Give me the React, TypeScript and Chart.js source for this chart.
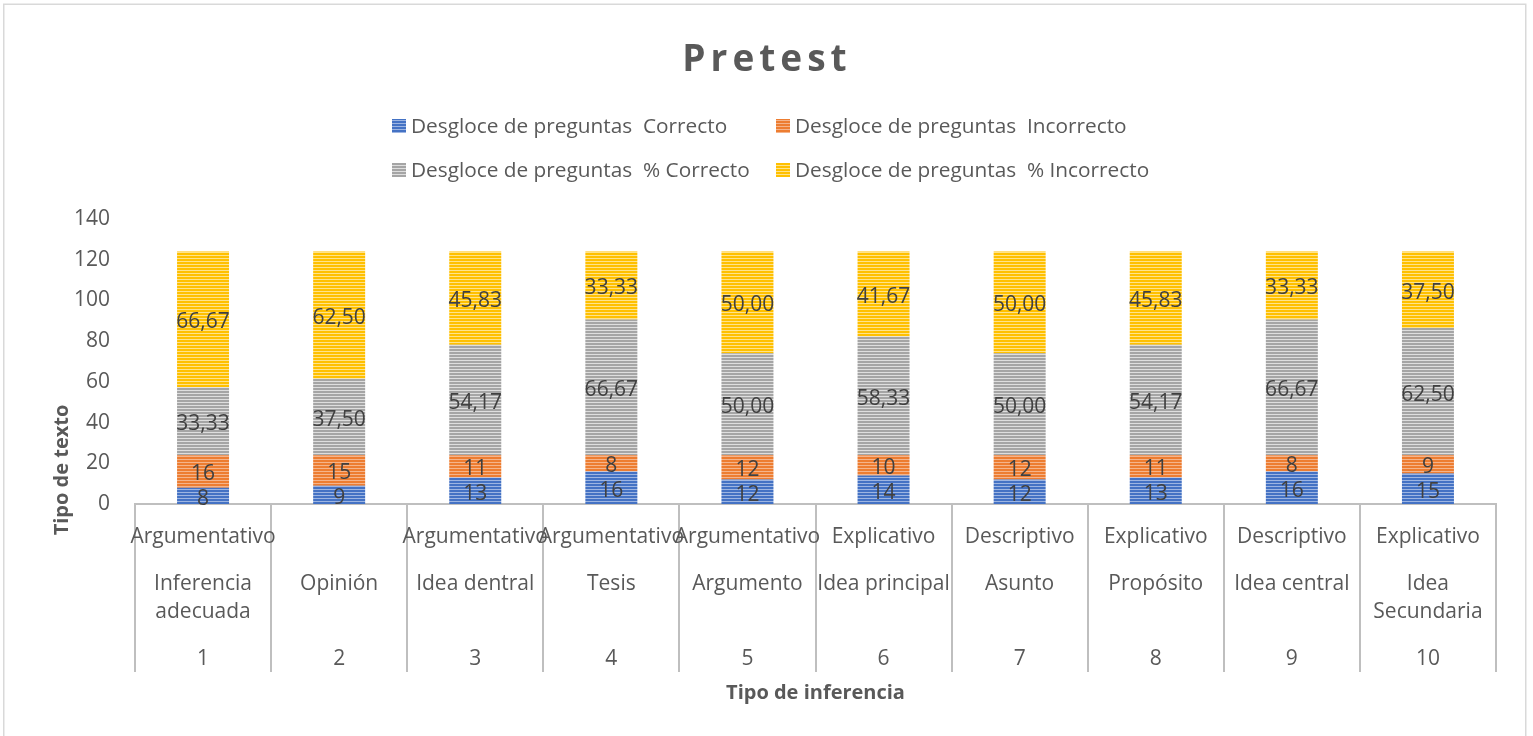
import React, { useEffect, useRef } from "react";
import { Chart, registerables } from "chart.js";

Chart.register(...registerables);

const categoryNumbers = ["1", "2", "3", "4", "5", "6", "7", "8", "9", "10"];
const textTypes = [
  "Argumentativo", "", "Argumentativo", "Argumentativo", "Argumentativo",
  "Explicativo", "Descriptivo", "Explicativo", "Descriptivo", "Explicativo",
];
const inferenceTypes = [
  ["Inferencia", "adecuada"], ["Opinión"], ["Idea dentral"], ["Tesis"], ["Argumento"],
  ["Idea principal"], ["Asunto"], ["Propósito"], ["Idea central"], ["Idea", "Secundaria"],
];
const correcto = [8, 9, 13, 16, 12, 14, 12, 13, 16, 15];
const incorrecto = [16, 15, 11, 8, 12, 10, 12, 11, 8, 9];
const pctCorrecto = [33.33, 37.5, 54.17, 66.67, 50, 58.33, 50, 54.17, 66.67, 62.5];
const pctIncorrecto = [66.67, 62.5, 45.83, 33.33, 50, 41.67, 50, 45.83, 33.33, 37.5];
const seriesNames = [
  "Desgloce de preguntas  Correcto",
  "Desgloce de preguntas  Incorrecto",
  "Desgloce de preguntas  % Correcto",
  "Desgloce de preguntas  % Incorrecto",
];
const yTicks = { min: 0, max: 140, step: 20 };

const FONT = "'Open Sans', Lato, sans-serif";
const TEXT = "#595959";
const LABEL = "#404040";

function stripe(base: string, light: string): CanvasPattern | string {
  const c = document.createElement("canvas");
  c.width = 4;
  c.height = 3;
  const ctx = c.getContext("2d");
  if (!ctx) return base;
  ctx.fillStyle = base;
  ctx.fillRect(0, 0, 4, 3);
  ctx.fillStyle = light;
  ctx.fillRect(0, 0, 4, 1);
  return ctx.createPattern(c, "repeat") || base;
}

export default function App() {
  const ref = useRef<HTMLCanvasElement | null>(null);

  useEffect(() => {
    if (!ref.current) return;
    const fills = [
      stripe("#4472C4", "#9DB5E2"),
      stripe("#ED7D31", "#F5B48A"),
      stripe("#A5A5A5", "#DEDEDE"),
      stripe("#FFC000", "#FFE38A"),
    ];

    const frame = {
      id: "frame",
      beforeDraw(chart: any) {
        const ctx = chart.ctx;
        ctx.save();
        ctx.fillStyle = "#ffffff";
        ctx.fillRect(0, 0, chart.width, chart.height);
        ctx.strokeStyle = "#d9d9d9";
        ctx.lineWidth = 1.5;
        ctx.strokeRect(3.75, 4.25, 1522, 740);
        ctx.restore();
      },
    };

    const decorations = {
      id: "decorations",
      afterDraw(chart: any) {
        const ctx = chart.ctx;
        const xs = chart.scales.x;
        const area = chart.chartArea;
        ctx.save();
        // Title
        ctx.fillStyle = TEXT;
        ctx.font = `bold 37px ${FONT}`;
        ctx.textAlign = "center";
        ctx.textBaseline = "middle";
        (ctx as any).letterSpacing = "5px";
        ctx.fillText("Pretest", 767, 60);
        (ctx as any).letterSpacing = "0px";

        // Legend
        ctx.font = `20.8px ${FONT}`;
        ctx.textAlign = "left";
        const legendPos = [
          [392, 126], [776, 126], [392, 170], [776, 170],
        ];
        seriesNames.forEach((name, i) => {
          const [lx, ly] = legendPos[i];
          ctx.fillStyle = fills[i] as any;
          ctx.fillRect(lx, ly - 7, 14, 14);
          ctx.fillStyle = TEXT;
          ctx.fillText(name, lx + 19, ly + 1);
        });

        // Category labels (multi-level)
        ctx.font = `21px ${FONT}`;
        ctx.textAlign = "center";
        ctx.fillStyle = TEXT;
        categoryNumbers.forEach((num, i) => {
          const x = xs.getPixelForValue(i);
          ctx.fillText(textTypes[i], x, area.bottom + 33);
          inferenceTypes[i].forEach((line, j) => {
            ctx.fillText(line, x, area.bottom + 80 + j * 28);
          });
          ctx.fillText(num, x, area.bottom + 155);
        });

        // Axis titles
        ctx.font = `bold 20px ${FONT}`;
        ctx.fillText("Tipo de inferencia", (area.left + area.right) / 2, 693);
        ctx.translate(62, 470);
        ctx.rotate(-Math.PI / 2);
        ctx.fillText("Tipo de texto", 0, 0);
        ctx.restore();
      },
    };

    const dataLabels = {
      id: "dataLabels",
      afterDatasetsDraw(chart: any) {
        const ctx = chart.ctx;
        ctx.save();
        ctx.font = `21px ${FONT}`;
        ctx.fillStyle = LABEL;
        ctx.textAlign = "center";
        ctx.textBaseline = "middle";
        chart.data.datasets.forEach((ds: any, di: number) => {
          const meta = chart.getDatasetMeta(di);
          meta.data.forEach((el: any, i: number) => {
            const { x, y, base } = el.getProps(["x", "y", "base"], true);
            const v = ds.data[i] as number;
            const txt = di >= 2 ? v.toFixed(2).replace(".", ",") : String(v);
            ctx.fillText(txt, x, (y + base) / 2 + 3);
          });
        });
        ctx.restore();
      },
    };

    const series = [correcto, incorrecto, pctCorrecto, pctIncorrecto];
    const chart = new Chart(ref.current, {
      type: "bar",
      data: {
        labels: categoryNumbers,
        datasets: series.map((d, i) => ({
          label: seriesNames[i],
          data: d,
          backgroundColor: fills[i] as any,
          borderWidth: 0,
          categoryPercentage: 1,
          barPercentage: 0.382,
        })),
      },
      options: {
        responsive: false,
        animation: false,
        devicePixelRatio: 1,
        layout: { padding: { left: 0, right: 37, top: 219, bottom: 64 } },
        plugins: {
          legend: { display: false },
          title: { display: false },
          tooltip: { enabled: false },
        },
        scales: {
          x: {
            stacked: true,
            offset: true,
            grid: {
              display: true,
              offset: true,
              drawOnChartArea: false,
              drawTicks: true,
              tickLength: 168,
              color: "#BFBFBF",
              lineWidth: 2,
            },
            border: { display: true, color: "#BFBFBF", width: 2 },
            ticks: { display: false },
            afterFit(s: any) {
              s.height = 168;
            },
          },
          y: {
            stacked: true,
            min: yTicks.min,
            max: yTicks.max,
            grid: { display: false },
            border: { display: false },
            ticks: {
              stepSize: yTicks.step,
              padding: 17,
              color: TEXT,
              font: { family: FONT, size: 21 },
            },
            afterFit(s: any) {
              s.width = 135;
            },
          },
        },
      },
      plugins: [frame, dataLabels, decorations],
    });
    return () => chart.destroy();
  }, []);

  return (
    <div style={{ position: "absolute", left: 0, top: 0, width: 1533, height: 736 }}>
      <canvas ref={ref} width={1533} height={736} style={{ display: "block" }} />
    </div>
  );
}
